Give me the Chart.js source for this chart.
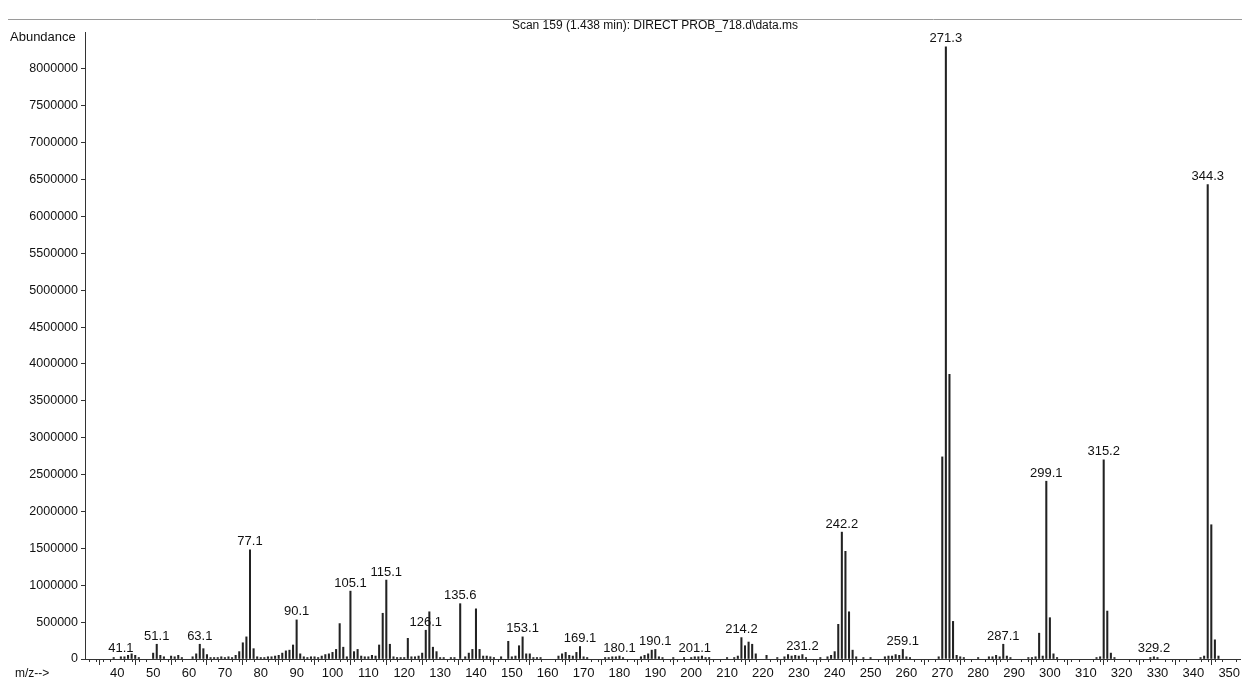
<!DOCTYPE html>
<html>
<head>
<meta charset="utf-8">
<script src="https://cdn.jsdelivr.net/npm/chart.js@4.4.1/dist/chart.umd.min.js"></script>
<style>
    html, body { margin: 0; padding: 0; background: #fff; }
    #wrap { width: 1242px; height: 682px; }
</style>
</head>
<body>
<div id="wrap"><canvas id="espectro" width="1242" height="682"></canvas></div>
<script>
const tituloScan = "Scan 159 (1.438 min): DIRECT PROB_718.d\\data.ms";

// m/z dos picos (x) e abundancia (y)
const mzPicos = [
    39, 41, 42, 43, 44, 45, 46, 50, 51, 52, 53, 55, 56, 57, 58, 61, 62, 63, 64, 65,
    66, 67, 68, 69, 70, 71, 72, 73, 74, 75, 76, 77, 78, 79, 80, 81, 82, 83, 84, 85,
    86, 87, 88, 89, 90, 91, 92, 93, 94, 95, 96, 97, 98, 99, 100, 101, 102, 103, 104, 105,
    106, 107, 108, 109, 110, 111, 112, 113, 114, 115, 116, 117, 118, 119, 120, 121, 122, 123, 124, 125,
    126, 127, 128, 129, 130, 131, 133, 134, 135.6, 137, 138, 139, 140, 141, 142, 143, 144, 145, 147, 149,
    150, 151, 152, 153, 154, 155, 156, 157, 158, 163, 164, 165, 166, 167, 168, 169, 170, 171, 176, 177,
    178, 179, 180, 181, 186, 187, 188, 189, 190, 191, 192, 195, 198, 200, 201, 202, 203, 204, 205, 210,
    212, 213, 214, 215, 216, 217, 218, 221, 224, 226, 227, 228, 229, 230, 231, 232, 236, 238, 239, 240,
    241, 242, 243, 244, 245, 246, 248, 250, 254, 255, 256, 257, 258, 259, 260, 261, 269, 270, 271, 272,
    273, 274, 275, 276, 280, 283, 284, 285, 286, 287, 288, 289, 294, 295, 296, 297, 298, 299, 300, 301,
    302, 313, 314, 315, 316, 317, 318, 328, 329, 330, 342, 343, 344, 345, 346, 347
];
const abundancia = [
    20000, 30000, 30000, 50000, 70000, 50000, 20000, 80000, 200000, 50000, 30000, 40000, 30000, 50000, 20000, 30000, 70000, 200000, 140000, 60000,
    20000, 20000, 20000, 30000, 20000, 30000, 20000, 50000, 100000, 220000, 300000, 1480000, 140000, 30000, 20000, 20000, 30000, 30000, 40000, 50000,
    80000, 110000, 120000, 190000, 530000, 70000, 30000, 20000, 30000, 30000, 20000, 40000, 60000, 70000, 90000, 130000, 480000, 160000, 30000, 920000,
    100000, 130000, 40000, 30000, 30000, 50000, 40000, 190000, 620000, 1070000, 200000, 30000, 20000, 20000, 20000, 280000, 30000, 30000, 40000, 80000,
    390000, 640000, 160000, 100000, 20000, 20000, 20000, 20000, 750000, 30000, 80000, 130000, 680000, 130000, 40000, 40000, 30000, 20000, 30000, 240000,
    30000, 40000, 180000, 300000, 70000, 70000, 20000, 20000, 20000, 40000, 70000, 90000, 50000, 40000, 90000, 170000, 30000, 20000, 20000, 20000,
    30000, 30000, 40000, 20000, 30000, 50000, 70000, 120000, 130000, 30000, 20000, 20000, 20000, 20000, 30000, 30000, 40000, 20000, 20000, 20000,
    20000, 40000, 290000, 180000, 230000, 200000, 70000, 50000, 20000, 30000, 60000, 40000, 50000, 40000, 60000, 20000, 20000, 30000, 50000, 100000,
    470000, 1720000, 1460000, 640000, 120000, 30000, 20000, 20000, 30000, 40000, 40000, 60000, 50000, 130000, 30000, 20000, 30000, 2740000, 8300000, 3860000,
    510000, 50000, 30000, 20000, 20000, 30000, 30000, 50000, 30000, 200000, 40000, 20000, 20000, 20000, 30000, 350000, 40000, 2410000, 560000, 70000,
    20000, 20000, 30000, 2700000, 650000, 80000, 20000, 20000, 30000, 20000, 20000, 40000, 6430000, 1820000, 260000, 40000
];

// picos rotulados
const rotuloMz = [41, 51, 63, 77, 90, 105, 115, 126, 135.6, 153, 169, 180, 190, 201, 214, 231, 242, 259, 271, 287, 299, 315, 329, 344];
const rotuloTexto = ["41.1", "51.1", "63.1", "77.1", "90.1", "105.1", "115.1", "126.1", "135.6", "153.1", "169.1", "180.1", "190.1", "201.1", "214.2", "231.2", "242.2", "259.1", "271.3", "287.1", "299.1", "315.2", "329.2", "344.3"];

const fonte = "'Liberation Sans', Arial, sans-serif";
const corTexto = "#111";

const pluginTextos = {
    id: "textosEspectro",
    afterDraw(chart) {
        const ctx = chart.ctx;
        const x = chart.scales.x;
        const y = chart.scales.y;
        const area = chart.chartArea;
        ctx.save();

        // linha superior e titulo
        ctx.strokeStyle = "#9a9a9a";
        ctx.lineWidth = 1;
        ctx.beginPath();
        ctx.moveTo(8, 19.5);
        ctx.lineTo(1242, 19.5);
        ctx.stroke();

        ctx.fillStyle = corTexto;
        ctx.font = "12px " + fonte;
        ctx.textAlign = "center";
        ctx.textBaseline = "middle";
        ctx.fillText(tituloScan, 655, 26);

        ctx.font = "13px " + fonte;
        ctx.textAlign = "left";
        ctx.fillText("Abundance", 10, 37);
        ctx.font = "12px " + fonte;
        ctx.fillText("m/z-->", 15, 674);

        // ticks menores do eixo x
        ctx.strokeStyle = "#333";
        ctx.beginPath();
        for (let v = 32; v <= 352; v += 2) {
            if (v % 10 === 0) continue;
            const px = Math.round(x.getPixelForValue(v)) + 0.5;
            ctx.moveTo(px, area.bottom);
            ctx.lineTo(px, area.bottom + 3);
        }
        ctx.stroke();

        // rotulos dos picos
        ctx.font = "13px " + fonte;
        ctx.textAlign = "center";
        ctx.textBaseline = "middle";
        rotuloMz.forEach((m, i) => {
            const idx = mzPicos.indexOf(m);
            if (idx < 0) return;
            const px = x.getPixelForValue(m);
            const py = y.getPixelForValue(abundancia[idx]);
            ctx.fillText(rotuloTexto[i], px, Math.max(py - 8, 37));
        });

        ctx.restore();
    }
};

const ctx = document.getElementById("espectro").getContext("2d");
new Chart(ctx, {
    type: "bar",
    data: {
        datasets: [{
            data: mzPicos.map((m, i) => ({ x: m, y: abundancia[i] })),
            backgroundColor: "#222",
            borderWidth: 0,
            barThickness: 1.4,
            grouped: false
        }]
    },
    options: {
        responsive: false,
        animation: false,
        devicePixelRatio: 1,
        layout: { padding: { top: 32, right: 2, left: 0, bottom: 0 } },
        plugins: {
            legend: { display: false },
            tooltip: { enabled: false }
        },
        scales: {
            x: {
                type: "linear",
                min: 31,
                max: 353,
                offset: false,
                afterFit: s => { s.height = 23; },
                afterBuildTicks: s => { s.ticks = s.ticks.filter(t => t.value % 10 === 0); },
                ticks: {
                    stepSize: 10,
                    includeBounds: false,
                    maxTicksLimit: 60,
                    autoSkip: false,
                    maxRotation: 0,
                    padding: 1,
                    color: corTexto,
                    font: { family: fonte, size: 13 }
                },
                grid: { display: true, drawOnChartArea: false, drawTicks: true, tickLength: 6, color: "#333" },
                border: { display: true, color: "#333", width: 1 }
            },
            y: {
                min: 0,
                max: 8500000,
                afterFit: s => { s.width = 85; },
                afterBuildTicks: s => { s.ticks = s.ticks.filter(t => t.value % 500000 === 0 && t.value <= 8000000); },
                ticks: {
                    stepSize: 500000,
                    maxTicksLimit: 40,
                    autoSkip: false,
                    padding: 3,
                    color: corTexto,
                    font: { family: fonte, size: 12.5 },
                    callback: v => String(v)
                },
                grid: { display: true, drawOnChartArea: false, drawTicks: true, tickLength: 4, color: "#333" },
                border: { display: true, color: "#333", width: 1 }
            }
        }
    },
    plugins: [pluginTextos]
});
</script>
</body>
</html>
